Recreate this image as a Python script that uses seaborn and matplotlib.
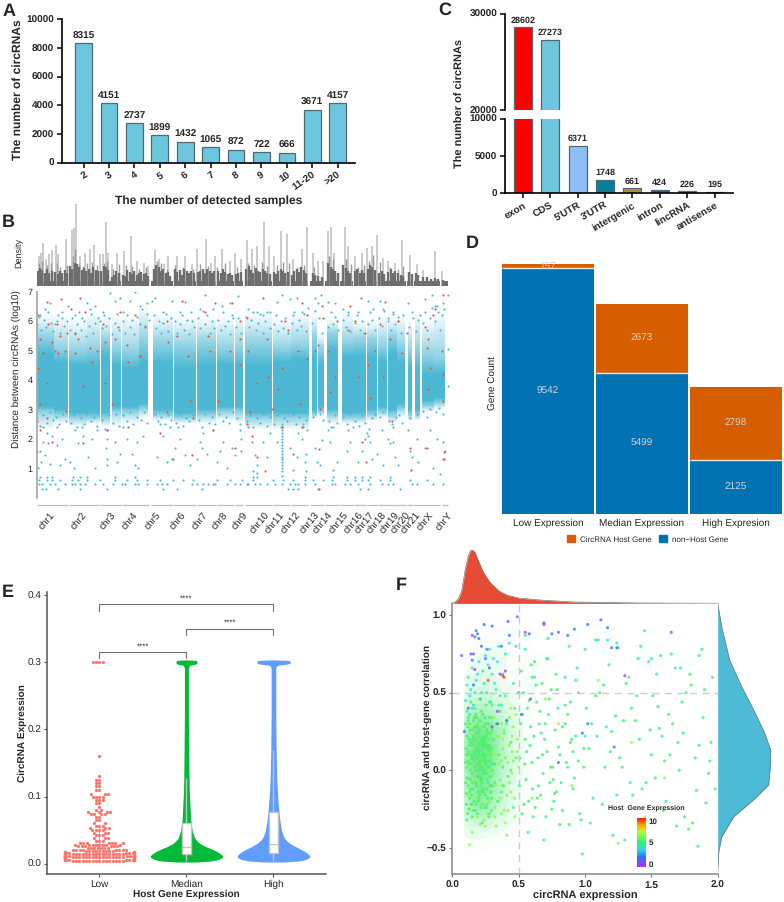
import numpy as np
import seaborn as sns
import matplotlib.pyplot as plt
from matplotlib.cm import ScalarMappable
from matplotlib.colors import LinearSegmentedColormap, Normalize, to_rgb
from matplotlib.patches import Patch

sns.set_style("white")
plt.rcParams["font.family"] = ["Liberation Sans", "DejaVu Sans"]
plt.rcParams["axes.unicode_minus"] = False
plt.rcParams["text.hinting"] = "no_hinting"
plt.rcParams["text.hinting_factor"] = 1

W, H = 784, 902

# Panel A
detected_samples = ["2", "3", "4", "5", "6", "7", "8", "9", "10", "11-20", ">20"]
detected_counts = [8315, 4151, 2737, 1899, 1432, 1065, 872, 722, 666, 3671, 4157]

# Panel C
regions = ["exon", "CDS", "5'UTR", "3'UTR", "intergenic", "intron", "lincRNA", "antisense"]
region_counts = [28602, 27273, 6371, 1748, 661, 424, 226, 195]
region_colors = ["#FF0000", "#6CC6DD", "#8FBDF7", "#0A7D9C", "#B98C45", "#4343D8", "#6A2A92", "#8E1B2E"]

# Panel B, x is genome position on the plot's own running scale
chrom_names = ["chr1", "chr2", "chr3", "chr4", "chr5", "chr6", "chr7", "chr8", "chr9", "chr10", "chr11", "chr12",
               "chr13", "chr14", "chr15", "chr16", "chr17", "chr18", "chr19", "chr20", "chr21", "chrX", "chrY"]
chrom_ticks = [148, 245, 331, 396, 467, 541, 606, 668, 726, 791, 838, 886,
               941, 981, 1029, 1073, 1106, 1143, 1181, 1216, 1246, 1286, 1341]
chrom_start = [110, 207, 301, 365, 452, 522, 591, 652, 705, 736, 818, 873, 930, 976, 1020, 1062, 1100, 1135, 1162, 1192, 1222, 1243, 1325]
chrom_end = [203, 297, 362, 447, 518, 587, 648, 701, 730, 815, 870, 925, 972, 1016, 1058, 1098, 1130, 1160, 1190, 1217, 1238, 1320, 1345]

# dense part of the cloud: block start, block end, solid range, dotted range, outer range
band_start = [110, 163, 208, 262, 303, 335, 365, 418, 460, 523, 592, 652, 706, 736, 818, 873, 935, 955, 982, 1027, 1060, 1100, 1135, 1163, 1192, 1225, 1245, 1265, 1302]
band_end = [160, 203, 260, 300, 330, 362, 415, 445, 520, 588, 648, 702, 728, 815, 870, 925, 948, 972, 1015, 1058, 1098, 1130, 1160, 1190, 1215, 1237, 1258, 1300, 1335]
solid_low = [3.1, 3.0, 2.9, 2.9, 2.9, 3.1, 3.1, 3.2, 3.0, 2.9, 3.0, 3.1, 3.1, 2.9, 2.9, 2.9, 3.0, 3.1, 3.0, 2.9, 2.9, 3.0, 3.1, 3.0, 3.2, 3.0, 3.0, 3.3, 3.4]
solid_high = [4.9, 4.6, 4.5, 4.5, 4.8, 4.5, 4.4, 4.6, 4.6, 4.4, 4.5, 4.5, 4.5, 4.5, 4.6, 4.7, 4.7, 4.5, 5.0, 4.8, 4.8, 4.8, 4.6, 4.9, 4.6, 4.4, 4.4, 4.2, 4.2]
dotted_low = [2.9, 2.8, 2.7, 2.7, 2.7, 2.9, 2.9, 3.0, 2.8, 2.7, 2.8, 2.9, 2.9, 2.7, 2.7, 2.7, 2.8, 2.9, 2.8, 2.7, 2.7, 2.8, 2.9, 2.8, 3.0, 2.8, 2.8, 3.1, 3.2]
dotted_high = [5.5, 5.1, 5.0, 5.1, 5.4, 5.1, 5.0, 5.4, 5.3, 5.2, 5.3, 5.1, 5.1, 5.3, 5.1, 5.2, 5.5, 5.1, 5.6, 5.3, 5.4, 5.4, 5.2, 5.5, 5.2, 5.0, 5.1, 4.9, 4.8]
outer_low = [2.3, 2.5, 2.4, 2.5, 2.4, 2.4, 2.5, 2.7, 2.6, 2.5, 2.5, 2.6, 2.5, 2.3, 2.3, 2.3, 2.7, 2.8, 2.5, 2.5, 2.5, 2.6, 2.7, 2.5, 2.7, 2.6, 2.6, 2.9, 3.0]
outer_high = [6.0, 5.9, 5.8, 6.0, 5.9, 5.9, 5.9, 6.2, 6.0, 5.9, 5.9, 5.9, 5.9, 6.0, 5.8, 6.0, 6.0, 5.4, 5.9, 6.0, 5.8, 5.8, 5.9, 5.9, 5.9, 5.8, 6.0, 5.8, 6.0]

sparse_x = [115, 122, 128, 135, 145, 150, 120, 140, 130, 155, 170, 185, 195, 180, 170, 210, 222, 235, 250, 265, 275, 285, 290, 245, 225, 320, 322, 318, 321, 320, 345, 350, 370, 380, 395, 405, 410, 430, 415, 360, 470, 490, 500, 515, 525, 540, 555, 480, 510, 535, 570, 590, 600, 605, 610, 620, 640, 650, 660, 670, 680, 695, 705, 722, 722, 720, 745, 755, 765, 770, 760, 770, 790, 800, 810, 830,
            845, 846, 845, 847, 845, 846, 847, 845, 846, 845, 847, 845, 846, 845, 847, 846, 845, 846,
            870, 880, 890, 905, 915, 918, 918, 920, 910, 895, 945, 950, 960, 965, 985, 990, 998, 1000, 1010, 1040, 1045, 1050, 1060, 1075, 1085, 1095, 1100, 1105, 1110, 1115, 1130, 1145, 1150, 1165, 1170, 1175, 1180, 1185, 1195, 1225, 1230, 1235, 1250, 1255, 1275, 1290, 1300, 1310, 1320, 1328, 1330, 1335,
            135, 150, 120, 170, 185, 205, 225, 245, 260, 270, 285, 300, 310, 330, 345, 360, 370, 390, 405, 420, 440, 455, 465, 490, 515, 540, 555, 575, 600, 615, 640, 665, 690, 715, 700, 745, 770, 790, 810, 830, 870, 845, 890, 880, 905, 925, 945, 962, 955, 985, 1005, 1030, 1045, 1075, 1105, 1120, 1140, 1150, 1165, 1180, 1195, 1225, 1240, 1260, 1275, 1295, 1305, 1315, 1330, 1345, 1345, 1345]
sparse_y = [1.0, 1.2, 1.9, 1.45, 1.85, 1.15, 1.6, 2.2, 2.4, 2.1, 1.8, 2.0, 1.3, 1.1, 2.4, 1.2, 1.0, 1.85, 2.1, 1.4, 2.0, 1.0, 2.3, 2.4, 2.3, 1.3, 1.1, 1.7, 2.0, 2.3, 1.9, 1.2, 2.4, 2.0, 1.5, 1.1, 1.9, 2.1, 1.0, 1.5, 1.4, 2.1, 1.2, 1.3, 1.7, 2.0, 1.45, 2.5, 2.4, 2.4, 1.1, 1.3, 1.9, 1.7, 2.2, 1.5, 2.3, 1.2, 1.6, 1.9, 1.0, 1.7, 1.45, 1.6, 2.0, 2.3, 2.4, 1.9, 1.45, 1.1, 0.9, 0.85, 1.9, 1.4, 2.2, 1.9,
            0.75, 0.9, 1.0, 1.1, 1.2, 1.3, 1.4, 1.5, 1.6, 1.7, 1.8, 1.9, 2.0, 2.1, 2.2, 2.3, 2.4, 2.5,
            1.7, 0.95, 1.4, 2.0, 1.2, 0.9, 1.5, 2.3, 2.5, 2.2, 1.7, 1.2, 1.1, 1.95, 2.3, 1.9, 0.95, 2.4, 1.2, 1.6, 2.3, 1.9, 2.4, 1.2, 1.6, 2.0, 2.2, 2.1, 1.9, 1.3, 1.5, 2.3, 1.1, 2.0, 1.85, 2.5, 1.9, 1.4, 1.1, 2.3, 1.6, 1.4, 2.0, 1.2, 1.7, 2.3, 1.0, 2.0, 0.8, 1.9, 1.3, 1.6,
            6.4, 6.6, 6.2, 6.0, 6.3, 6.5, 6.2, 6.1, 6.6, 6.4, 6.5, 6.0, 6.3, 6.95, 6.7, 6.8, 6.3, 6.7, 7.0, 6.5, 6.6, 6.7, 6.8, 6.3, 6.7, 6.3, 6.65, 6.0, 6.4, 6.9, 6.4, 6.5, 6.6, 6.85, 6.1, 6.4, 6.3, 6.2, 6.3, 6.65, 6.75, 6.9, 6.8, 6.2, 6.3, 6.45, 6.8, 6.9, 6.6, 6.65, 6.6, 6.4, 6.3, 6.3, 6.7, 6.4, 6.7, 6.4, 6.0, 6.3, 6.15, 6.6, 6.1, 6.2, 6.75, 6.9, 6.5, 6.3, 6.6, 6.9, 5.05, 3.8]
# the thinner upper fringe of the cloud
fringe_x = [112, 118, 124, 131, 138, 144, 152, 158, 166, 173, 179, 186, 193, 200, 210, 217, 224, 231, 238, 244, 251, 258, 266, 272, 279, 286, 293, 305, 312, 319, 326, 337, 344, 351, 358, 368, 375, 382, 389, 396, 403, 410, 420, 427, 434, 441, 448, 462, 469, 476, 483, 490, 497, 504, 512, 525, 532, 539, 546, 553, 560, 567, 574, 581, 594, 601, 608, 615, 622, 629, 636, 643, 655, 662, 669, 676, 683, 690, 697, 708, 715, 722, 739, 746, 753, 760, 767, 774, 781, 788, 795, 802, 809, 821, 828, 835, 842, 849, 856, 863, 876, 883, 890, 897, 904, 911, 918, 937, 944, 958, 965, 985, 992, 999, 1006, 1013, 1030, 1037, 1044, 1051, 1065, 1072, 1079, 1086, 1093, 1103, 1110, 1117, 1124, 1138, 1145, 1152, 1165, 1172, 1179, 1186, 1195, 1202, 1209, 1228, 1235, 1248, 1255, 1268, 1275, 1282, 1289, 1296, 1305, 1312, 1319, 1326, 1333]
fringe_y = [5.9, 6.15, 5.7, 6.05, 5.8, 6.3, 5.95, 5.65, 5.9, 6.2, 5.6, 6.1, 5.85, 6.0, 5.7, 6.1, 5.55, 5.9, 6.3, 5.7, 6.0, 5.5, 5.85, 6.25, 5.6, 5.95, 6.1, 5.75, 6.2, 5.85, 6.1, 5.55, 5.95, 6.25, 5.7, 6.0, 5.6, 6.2, 5.8, 6.05, 5.55, 6.15, 5.9, 6.4, 5.85, 6.25, 6.05, 6.2, 5.75, 6.0, 5.6, 5.95, 6.25, 5.65, 6.1, 6.0, 5.6, 5.9, 6.2, 5.7, 6.05, 5.55, 6.3, 5.8, 6.1, 5.75, 6.35, 5.9, 6.2, 5.6, 6.0, 5.75, 6.05, 5.7, 6.3, 5.85, 6.0, 5.55, 6.2, 5.8, 6.1, 5.6, 6.15, 5.8, 6.05, 6.3, 5.7, 5.95, 6.25, 5.6, 6.0, 6.3, 5.75, 5.9, 6.2, 5.65, 6.0, 5.75, 6.1, 5.6, 5.95, 6.3, 5.7, 6.05, 5.85, 6.25, 5.65, 5.95, 6.35, 6.1, 5.6, 5.8, 6.3, 5.9, 6.15, 5.7, 6.05, 5.8, 6.2, 5.65, 5.95, 6.2, 5.7, 6.0, 5.6, 5.9, 6.3, 6.05, 5.7, 6.1, 5.85, 6.35, 6.1, 5.7, 6.25, 5.9, 6.0, 5.6, 6.2, 5.8, 6.3, 5.65, 6.05, 5.95, 6.3, 5.7, 6.1, 6.45, 6.0, 6.5, 5.7, 6.2, 6.4]
under_x = [112, 121, 130, 140, 150, 158, 168, 178, 188, 198, 212, 222, 232, 242, 252, 262, 272, 282, 292, 306, 316, 326, 338, 348, 358, 370, 380, 390, 400, 410, 422, 432, 442, 464, 474, 484, 494, 504, 514, 528, 538, 548, 558, 568, 578, 596, 606, 616, 626, 636, 646, 658, 668, 678, 688, 698, 710, 720, 740, 750, 760, 770, 780, 790, 800, 810, 822, 832, 842, 852, 862, 878, 888, 898, 908, 918, 938, 946, 960, 968, 986, 994, 1004, 1012, 1030, 1040, 1050, 1066, 1076, 1086, 1096, 1106, 1116, 1126, 1140, 1150, 1168, 1178, 1188, 1196, 1206, 1230, 1250, 1270, 1280, 1290, 1308, 1318, 1328]
under_y = [2.7, 2.45, 2.8, 2.55, 2.9, 2.65, 2.75, 2.5, 2.85, 2.6, 2.55, 2.8, 2.4, 2.7, 2.5, 2.85, 2.6, 2.75, 2.45, 2.65, 2.35, 2.8, 2.55, 2.85, 2.45, 2.8, 2.6, 2.9, 2.5, 2.75, 2.65, 2.9, 2.55, 2.85, 2.6, 2.75, 2.5, 2.8, 2.65, 2.55, 2.85, 2.45, 2.7, 2.6, 2.8, 2.65, 2.4, 2.85, 2.55, 2.75, 2.5, 2.85, 2.6, 2.75, 2.55, 2.9, 2.7, 2.5, 2.6, 2.8, 2.4, 2.7, 2.55, 2.85, 2.45, 2.75, 2.5, 2.8, 2.4, 2.7, 2.6, 2.85, 2.5, 2.75, 2.4, 2.65, 2.75, 2.9, 2.85, 2.65, 2.6, 2.4, 2.8, 2.55, 2.75, 2.5, 2.85, 2.6, 2.45, 2.8, 2.55, 2.35, 2.7, 2.85, 2.75, 2.9, 2.6, 2.4, 2.75, 2.8, 2.55, 2.7, 2.85, 2.95, 2.75, 3.0, 2.9, 3.05, 2.85]
row_48_x = [118, 125, 150, 165, 195, 215, 225, 240, 255, 285, 310, 340, 365, 375, 405, 415, 440, 470, 485, 500, 575, 590, 610, 625, 640, 645, 680, 705, 720, 740, 745, 765, 780, 800, 825, 845, 870, 885, 895, 915, 945, 995, 1005, 1035, 1050, 1075, 1110, 1145, 1165, 1180, 1235, 1250, 1300, 1330]
row_60_x = [118, 140, 155, 180, 215, 235, 260, 300, 345, 380, 410, 440, 480, 520, 550, 580, 650, 690, 725, 760, 820, 850, 880, 915, 940, 970, 995, 1040, 1065, 1085, 1105, 1140, 1170, 1230, 1280]
row_72_x = [120, 140, 155, 220, 240, 260, 345, 405, 760, 770, 915, 1000, 1040, 1065, 1085, 1110, 1170]
row_30_x = [125, 138, 175, 240, 320, 490, 530, 605, 865, 880, 895, 955, 1080, 1105, 1200]

red_x = [115, 140, 145, 155, 170, 180, 182, 120, 130, 115, 140, 120, 112, 140, 120, 155, 112, 200, 195, 175, 165, 197, 212, 225, 240, 255, 235, 225, 250, 275, 270, 290, 310, 315, 315, 320, 248, 355, 360, 345, 380, 385, 420, 435, 405, 385, 335, 500, 505, 545, 530, 565, 570, 580, 500, 480, 520, 575, 615, 625, 645, 630, 655, 640, 695, 690, 720, 720, 720, 705, 740, 745, 750, 740, 755, 770, 790, 800, 805, 770, 815, 795, 855, 865, 845, 835, 845, 880, 905, 920, 895, 920, 900, 905, 965, 968, 945, 955, 985, 960, 957, 957, 1010, 1005, 990, 1050, 1065, 1083, 1045, 1075, 1095, 1105, 1110, 1085, 1097, 1155, 1140, 1125, 1170, 1150, 1175, 1195, 1205, 1222, 1232, 1230, 1275, 1285, 1280, 1290, 1285, 1300, 1305, 1330, 1325, 1330, 1330, 1332, 1332, 1280]
red_y = [6.2, 6.65, 5.9, 5.3, 5.9, 5.5, 6.75, 5.4, 4.9, 4.4, 3.9, 3.2, 2.6, 2.7, 2.3, 1.9, 1.55, 5.6, 5.0, 4.9, 5.0, 2.95, 6.4, 5.6, 6.8, 6.3, 5.4, 4.9, 3.8, 4.6, 5.1, 5.0, 5.9, 5.3, 3.9, 2.3, 1.85, 5.8, 6.3, 5.4, 5.2, 4.6, 4.8, 5.8, 6.2, 2.4, 3.2, 6.0, 5.3, 6.7, 5.5, 4.8, 3.3, 2.7, 2.9, 2.2, 1.3, 1.45, 6.3, 5.5, 6.6, 5.0, 3.3, 2.3, 6.6, 5.0, 6.0, 5.4, 4.5, 1.7, 6.1, 5.0, 2.9, 2.5, 2.1, 1.4, 6.8, 5.4, 4.1, 3.9, 3.0, 0.9, 6.0, 5.7, 4.4, 3.7, 2.4, 1.5, 6.6, 6.2, 5.0, 4.7, 3.2, 2.4, 6.5, 6.1, 5.0, 5.2, 5.0, 3.0, 1.65, 0.3, 6.0, 4.1, 3.6, 6.5, 6.0, 6.8, 5.7, 4.1, 5.6, 4.5, 3.4, 1.9, 1.2, 6.65, 5.9, 5.0, 5.4, 4.1, 2.6, 6.0, 4.9, 5.6, 0.95, 1.7, 5.8, 5.4, 5.1, 4.4, 3.7, 6.2, 6.4, 6.9, 5.0, 4.2, 3.3, 1.55, 1.3, 1.7]

spike_x = [118, 123, 130, 138, 148, 155, 167, 175, 197, 215, 222, 229, 240, 255, 270, 282, 300, 308, 319, 325, 335, 350, 372, 392, 410, 432, 445, 465, 478, 492, 505, 530, 555, 575, 590, 618, 632, 645, 667, 690, 705, 723, 742, 755, 770, 793, 808, 822, 843, 860, 880, 905, 920, 938, 955, 968, 985, 994, 1003, 1034, 1045, 1065, 1085, 1100, 1115, 1132, 1150, 1165, 1185, 1205, 1230, 1250, 1270, 1305, 1325]
spike_h = [90, 100, 130, 80, 95, 108, 125, 97, 142, 168, 175, 248, 90, 100, 110, 125, 95, 95, 192, 100, 65, 100, 105, 150, 75, 70, 60, 108, 80, 65, 90, 90, 90, 65, 110, 142, 70, 90, 110, 75, 100, 80, 140, 110, 120, 192, 120, 90, 165, 158, 80, 110, 178, 100, 75, 75, 165, 178, 100, 178, 120, 90, 100, 115, 120, 155, 85, 75, 70, 140, 92, 65, 48, 105, 45]
mid_spike_x = [116, 126, 142, 152, 170, 180, 200, 218, 226, 236, 250, 262, 276, 290, 312, 322, 340, 356, 378, 396, 416, 438, 470, 484, 500, 526, 548, 580, 600, 625, 652, 675, 712, 745, 762, 786, 800, 830, 848, 868, 890, 912, 942, 988, 998, 1038, 1052, 1075, 1092, 1108, 1120, 1140, 1170, 1195, 1210]
mid_spike_h = [70, 75, 62, 70, 70, 56, 64, 90, 110, 66, 60, 68, 72, 64, 70, 75, 50, 66, 62, 60, 52, 56, 75, 70, 52, 62, 58, 52, 66, 60, 56, 68, 58, 70, 64, 72, 60, 62, 72, 70, 58, 64, 58, 90, 82, 80, 66, 56, 64, 75, 92, 72, 56, 52, 60]
body_x = [113, 120, 127, 134, 141, 148, 155, 166, 173, 180, 187, 194, 201, 210, 217, 224, 231, 238, 245, 252, 259, 266, 273, 280, 287, 294, 304, 311, 318, 325, 335, 342, 349, 356, 368, 375, 382, 389, 396, 403, 410, 417, 424, 431, 438, 445, 462, 469, 476, 483, 490, 497, 504, 511, 525, 532, 539, 546, 553, 560, 567, 574, 581, 594, 601, 608, 615, 622, 629, 636, 643, 655, 662, 669, 676, 683, 690, 697, 708, 715, 722, 739, 746, 753, 760, 767, 774, 781, 788, 795, 802, 809, 821, 828, 835, 842, 849, 856, 863, 876, 883, 890, 897, 904, 911, 918, 938, 945, 955, 965, 985, 992, 999, 1006, 1013, 1030, 1037, 1044, 1051, 1065, 1072, 1079, 1086, 1093, 1103, 1110, 1117, 1124, 1138, 1145, 1152, 1165, 1172, 1179, 1186, 1195, 1202, 1209, 1228, 1235, 1248, 1255, 1268, 1280, 1292, 1305, 1315, 1328]
body_h = [45, 55, 48, 40, 50, 38, 46, 42, 35, 45, 40, 48, 38, 60, 52, 70, 65, 58, 48, 55, 46, 52, 40, 58, 48, 44, 45, 60, 58, 48, 28, 34, 45, 38, 32, 30, 48, 42, 36, 45, 34, 40, 42, 36, 38, 30, 52, 62, 56, 45, 50, 40, 42, 30, 50, 42, 48, 34, 52, 44, 38, 46, 40, 42, 46, 50, 40, 52, 44, 38, 46, 46, 38, 50, 42, 36, 40, 34, 36, 38, 42, 50, 60, 48, 40, 55, 46, 42, 52, 46, 40, 36, 42, 36, 46, 50, 44, 38, 42, 34, 44, 50, 42, 56, 48, 40, 40, 32, 30, 28, 70, 58, 50, 46, 40, 62, 54, 46, 38, 46, 52, 40, 48, 38, 50, 62, 56, 48, 40, 46, 36, 42, 50, 38, 44, 40, 34, 30, 42, 36, 38, 32, 26, 28, 22, 24, 20, 18]

# Panel D
expr_groups = ["Low Expression", "Median Expression", "High Expresion"]
non_host = [9542, 5499, 2125]
host = [157, 2673, 2798]

# Panel E
host_groups = ["Low", "Median", "High"]
low_levels = [0.0045, 0.0062, 0.0078, 0.0093, 0.0108, 0.0124, 0.0141, 0.0157, 0.0172, 0.0191, 0.021, 0.0233, 0.0258, 0.028, 0.031, 0.034, 0.038, 0.042, 0.046, 0.05, 0.053, 0.056, 0.06, 0.065, 0.07, 0.074, 0.077, 0.08, 0.085, 0.09, 0.095, 0.1, 0.104, 0.11, 0.115, 0.12, 0.125, 0.131, 0.16, 0.3]
low_counts = [16, 20, 24, 28, 24, 20, 17, 15, 11, 9, 8, 7, 6, 8, 7, 3, 3, 3, 3, 4, 3, 3, 2, 2, 2, 4, 4, 2, 1, 2, 3, 4, 3, 2, 2, 2, 2, 1, 1, 4]
violin_levels = [0.0025, 0.004, 0.006, 0.009, 0.0115, 0.014, 0.018, 0.022, 0.025, 0.028, 0.031, 0.035, 0.038, 0.045, 0.05, 0.065, 0.085, 0.105, 0.125, 0.17, 0.22, 0.27, 0.291, 0.294, 0.2955, 0.297, 0.2985, 0.3015, 0.3028, 0.3035]
median_width = [30, 75, 95, 107, 109, 104, 92, 75, 60, 48, 38, 30, 25, 20, 17, 13, 11, 9, 8, 7, 6, 6, 6, 8, 11, 26, 31, 31, 28, 0]
high_width = [30, 75, 95, 107, 109, 105, 95, 80, 68, 57, 47, 38, 33, 27, 24, 19, 15, 12, 10, 8, 7, 7, 7, 9, 14, 38, 50, 50, 44, 0]
box_low = [0.005, 0.0094, 0.0154, 0.030, 0.055]
box_median = [0.004, 0.014, 0.025, 0.060, 0.128]
box_high = [0.004, 0.0154, 0.030, 0.077, 0.169]
bracket_left = [0, 1, 0]
bracket_right = [1, 2, 2]
bracket_y = [0.315, 0.350, 0.386]

# Panel F
green_x = [0.55, 0.62, 0.58, 0.72, 0.78, 0.85, 0.55, 0.6, 0.65, 0.7, 0.75, 0.8, 0.9, 0.92, 0.95, 1.0, 1.05, 1.1, 1.15, 1.2, 1.25, 1.3, 1.35, 1.4, 1.45, 1.5, 1.55, 1.6, 1.65, 1.7, 1.75, 1.8, 1.85, 1.9, 1.95, 1.98,
           0.52, 0.57, 0.63, 0.68, 0.73, 0.77, 0.83, 0.88, 0.93, 0.98, 1.03, 1.08, 1.13, 1.18, 1.23, 1.28, 1.33, 1.38, 1.43, 1.48, 1.53, 1.58, 1.63, 1.68, 1.73, 1.78, 1.83, 1.88, 1.93,
           0.51, 0.54, 0.59, 0.61, 0.66, 0.69, 0.74, 0.79, 0.82, 0.87, 0.91, 0.96, 1.01, 1.06, 1.11, 1.16, 1.21, 1.26, 1.31, 1.36, 1.41, 1.46, 1.51, 1.56, 1.61, 1.66, 1.71, 1.76, 1.81, 1.86, 1.91, 1.96,
           0.53, 0.56, 0.6, 0.64, 0.67, 0.71, 0.76, 0.81, 0.86, 0.89, 0.94, 0.99, 1.04, 1.09, 1.14, 1.19, 1.24, 1.29, 1.34, 1.39, 1.44, 1.49, 1.54, 1.59, 1.64, 1.69, 1.74, 1.79, 1.84, 1.89, 1.94,
           0.505, 0.515, 0.525, 0.535, 0.545, 0.555, 0.565, 0.575, 0.585, 0.595, 0.605, 0.615, 0.625, 0.635, 0.645, 0.655, 0.665, 0.675, 0.685, 0.695, 0.705, 0.715, 0.725, 0.735, 0.745, 0.755, 0.765, 0.775, 0.785, 0.795, 0.81, 0.83, 0.85, 0.87, 0.89, 0.91, 0.93, 0.95, 0.97, 0.99]
green_y = [0.87, 0.7, 0.45, 0.85, 0.62, 0.42, 0.2, 0.05, -0.1, 0.3, -0.25, 0.15, 0.2, -0.05, 0.5, 0.78, 0.3, 0.84, 0.02, 0.25, 0.79, -0.45, 0.4, 0.72, 0.9, 0.1, 0.41, 0.06, 0.75, 0.18, -0.3, 0.55, -0.49, 0.52, 0.18, -0.12,
           0.64, -0.4, 0.55, 0.1, 0.46, -0.15, 0.28, -0.35, 0.58, -0.54, 0.14, 0.48, -0.22, 0.68, 0.35, 0.02, 0.6, 0.32, -0.12, 0.7, -0.05, 0.22, 0.36, 0.66, 0.44, -0.38, 0.08, 0.78, -0.02,
           0.08, -0.22, 0.28, -0.3, 0.38, -0.45, 0.02, 0.52, -0.08, 0.36, 0.12, -0.28, 0.4, -0.18, 0.5, 0.28, -0.42, 0.08, 0.56, -0.16, 0.2, -0.08, 0.48, 0.27, -0.2, 0.3, 0.0, 0.5, -0.34, 0.16, -0.21, 0.6,
           0.36, 0.12, 0.6, -0.18, 0.24, 0.72, -0.06, -0.35, 0.05, 0.18, 0.66, 0.02, -0.34, 0.22, 0.55, 0.12, -0.16, 0.32, -0.08, 0.48, -0.32, 0.26, 0.62, -0.26, 0.1, -0.36, 0.24, 0.62, -0.13, 0.34, 0.06,
           -0.1, 0.3, -0.28, 0.5, 0.04, -0.06, 0.4, -0.2, 0.16, 0.68, -0.12, 0.22, -0.24, 0.44, 0.08, 0.3, -0.16, 0.56, -0.02, 0.2, -0.3, 0.12, 0.36, -0.08, 0.52, 0.02, -0.2, 0.26, -0.14, 0.4, 0.1, -0.26, 0.3, 0.02, 0.44, -0.12, 0.22, 0.06, -0.32, 0.14]
lime_x = [0.11, 0.12, 0.13, 0.14, 0.15, 0.16, 0.17, 0.18, 0.19, 0.2, 0.21, 0.22, 0.23, 0.24, 0.25, 0.26, 0.27, 0.28, 0.29, 0.3, 0.32, 0.34, 0.36, 0.38, 0.4, 0.42, 0.44, 0.46, 0.48, 0.5, 0.13, 0.15, 0.17, 0.19, 0.21, 0.23, 0.25, 0.27, 0.29, 0.31, 0.33, 0.35, 0.37, 0.39, 0.41, 0.43, 0.45, 0.47, 0.49, 0.12, 0.14, 0.16, 0.18, 0.2, 0.22, 0.24, 0.26, 0.28, 0.3, 0.6, 0.7, 0.8, 0.9, 1.1, 1.25, 1.35, 1.45, 1.6,
          0.31, 0.33, 0.35, 0.37, 0.39, 0.41, 0.43, 0.45, 0.32, 0.34, 0.36, 0.38, 0.4, 0.42, 0.44, 0.46, 0.31, 0.33, 0.35, 0.37, 0.39, 0.41, 0.43, 0.45, 0.47, 0.49]
lime_y = [-0.05, 0.1, -0.25, 0.02, -0.4, 0.15, -0.18, 0.06, -0.3, -0.08, 0.2, -0.22, 0.04, -0.12, 0.12, -0.28, 0.0, 0.18, -0.15, 0.08, -0.24, 0.22, -0.06, 0.14, -0.34, 0.05, -0.14, 0.28, 0.36, 0.02, -0.48, 0.28, 0.34, 0.18, -0.35, 0.26, -0.36, 0.3, 0.24, -0.02, 0.1, -0.2, 0.3, -0.1, -0.42, 0.34, 0.12, -0.3, 0.2, -0.16, 0.24, -0.06, -0.22, 0.32, 0.1, -0.32, 0.08, -0.2, 0.26, -0.18, 0.46, 0.3, -0.1, 0.58, -0.47, 0.18, -0.3, -0.05,
          0.12, -0.1, 0.04, -0.28, 0.26, -0.16, 0.16, -0.02, -0.3, 0.3, -0.18, 0.2, 0.08, -0.26, 0.4, 0.06, 0.34, -0.36, 0.22, 0.06, -0.26, 0.32, -0.08, 0.22, -0.18, 0.12]
mid_x = [0.1, 0.105, 0.11, 0.115, 0.12, 0.125, 0.13, 0.135, 0.14, 0.145, 0.15, 0.155, 0.16, 0.165, 0.17, 0.175, 0.18, 0.185, 0.19, 0.195, 0.2, 0.205, 0.21, 0.215, 0.22, 0.225, 0.23, 0.235, 0.24, 0.245, 0.25, 0.255, 0.26, 0.265, 0.27, 0.275, 0.28, 0.285, 0.29, 0.295, 0.3, 0.31, 0.32, 0.33, 0.34, 0.35, 0.36, 0.37, 0.38, 0.39, 0.4, 0.42, 0.44, 0.46, 0.48,
         0.1, 0.11, 0.12, 0.13, 0.14, 0.15, 0.16, 0.17, 0.18, 0.19, 0.2, 0.21, 0.22, 0.23, 0.24, 0.25, 0.26, 0.27, 0.28, 0.29, 0.3, 0.1, 0.11, 0.12, 0.13, 0.14, 0.15, 0.16, 0.17, 0.18, 0.19, 0.2, 0.21, 0.22, 0.23, 0.24, 0.25, 0.26, 0.27, 0.28, 0.3, 0.32, 0.35, 0.38, 0.41, 0.44, 0.47,
         0.105, 0.115, 0.125, 0.135, 0.145, 0.155, 0.165, 0.175, 0.185, 0.195, 0.205, 0.215, 0.225, 0.235, 0.245, 0.255, 0.265, 0.275, 0.285, 0.295, 0.105, 0.115, 0.125, 0.135, 0.145, 0.155, 0.165, 0.175, 0.185, 0.195, 0.205, 0.215, 0.225, 0.235, 0.245, 0.255, 0.265, 0.275, 0.285, 0.295,
         0.11, 0.13, 0.15, 0.17, 0.19, 0.21, 0.23, 0.25, 0.27, 0.29, 0.12, 0.14, 0.16, 0.18, 0.2, 0.22, 0.24, 0.26, 0.28, 0.3, 0.11, 0.13, 0.15, 0.17, 0.19, 0.21, 0.23, 0.25, 0.27, 0.29, 0.12, 0.14, 0.16, 0.18, 0.2, 0.22, 0.24, 0.26, 0.28, 0.3]
mid_y = [0.05, -0.15, 0.22, -0.05, 0.12, -0.25, 0.3, 0.0, -0.12, 0.18, -0.3, 0.08, 0.26, -0.2, 0.02, 0.36, -0.1, 0.14, -0.28, 0.24, 0.04, -0.16, 0.32, -0.06, 0.2, -0.34, 0.1, -0.02, 0.28, -0.24, 0.16, 0.42, -0.12, 0.06, 0.24, -0.3, 0.12, -0.04, 0.34, -0.18, 0.0, 0.2, -0.08, 0.3, -0.2, 0.1, 0.38, -0.14, 0.02, 0.24, 0.48, -0.04, 0.18, -0.24, 0.08,
         0.3, 0.38, -0.1, 0.16, 0.44, -0.02, 0.1, 0.4, -0.22, 0.3, 0.12, -0.1, 0.38, 0.0, 0.16, -0.16, 0.26, -0.08, 0.34, 0.06, 0.42, -0.08, 0.02, 0.34, -0.18, 0.1, 0.2, -0.26, 0.06, 0.24, -0.04, 0.18, 0.46, -0.14, 0.36, 0.0, 0.3, -0.22, 0.14, 0.44, 0.26, 0.04, 0.42, -0.1, 0.3, 0.0, 0.4,
         0.14, -0.28, 0.04, 0.26, -0.16, 0.16, 0.34, -0.26, 0.08, -0.14, 0.26, 0.02, -0.08, 0.2, 0.34, 0.04, -0.18, 0.3, -0.1, 0.14, -0.22, 0.28, 0.2, -0.06, 0.08, -0.12, 0.2, 0.0, 0.34, -0.2, 0.1, -0.24, 0.16, -0.14, 0.06, 0.22, -0.06, 0.16, 0.24, -0.26,
         -0.32, 0.18, -0.22, 0.12, 0.28, -0.04, -0.22, 0.22, 0.02, 0.1, 0.06, -0.22, 0.32, -0.08, 0.0, 0.18, 0.1, -0.24, 0.02, -0.1, 0.1, -0.14, -0.08, 0.28, 0.14, 0.06, -0.12, 0.08, 0.16, -0.14, 0.32, 0.04, 0.22, 0.12, -0.18, -0.06, 0.18, -0.02, -0.28, 0.04]
cyan_x = [0.1, 0.12, 0.13, 0.14, 0.15, 0.16, 0.18, 0.2, 0.21, 0.23, 0.25, 0.26, 0.28, 0.3, 0.32, 0.34, 0.36, 0.38, 0.4, 0.43, 0.46, 0.48, 0.11, 0.13, 0.15, 0.17, 0.19, 0.22, 0.24, 0.27, 0.29, 0.31, 0.33, 0.35, 0.37, 0.55, 0.62, 0.72, 0.85, 0.88, 1.0, 1.08, 1.17, 1.24, 1.42, 1.5, 1.57, 1.72, 1.86]
cyan_y = [0.45, 0.6, 0.36, 0.52, 0.66, 0.42, 0.58, 0.7, 0.46, 0.64, 0.74, 0.5, 0.78, 0.62, 0.56, 0.7, 0.48, 0.62, 0.75, 0.82, 0.56, 0.8, 0.55, 0.48, 0.4, 0.5, 0.62, 0.5, 0.56, 0.68, 0.44, 0.72, 0.52, 0.8, 0.42, 0.78, 0.6, 0.72, 0.6, 0.8, 0.22, 0.84, 0.84, 0.82, 0.8, 0.72, 0.74, 0.66, 0.74]
blue_x = [0.07, 0.09, 0.12, 0.14, 0.15, 0.16, 0.17, 0.18, 0.19, 0.2, 0.22, 0.24, 0.25, 0.26, 0.28, 0.3, 0.34, 0.37, 0.41, 0.43, 0.5, 0.52, 0.58, 0.75, 0.8, 0.87, 0.92, 1.02, 1.12, 1.17, 1.2, 1.24, 1.22, 0.8, 0.98, 1.02]
blue_y = [0.74, 0.25, 0.4, 0.75, 0.71, 0.55, 0.86, 0.9, 0.88, 0.85, 0.8, 0.94, 0.72, 0.78, 0.66, 0.93, 0.3, 0.8, 0.32, 0.87, 0.5, 0.36, 0.88, 0.88, 0.89, 0.87, 0.91, 0.94, 0.97, 0.92, 0.79, 0.79, 0.15, 0.05, 0.24, 0.3]
purple_x = [0.15, 0.16, 0.17, 0.3, 0.36, 0.4, 0.42, 0.49, 0.55, 0.59, 0.69, 0.69, 1.3, 1.65, 0.34]
purple_y = [0.87, 0.75, 0.65, 0.28, 0.62, 0.64, 0.96, 0.99, 0.89, 0.46, 0.95, 0.94, 0.61, 0.89, 0.38]
red_pt_x = [0.27, 0.38, 0.39]
red_pt_y = [0.58, 0.61, 0.6]

top_x = [0.0, 0.008, 0.045, 0.071, 0.096, 0.121, 0.138, 0.151, 0.171, 0.196, 0.234, 0.284, 0.347, 0.41, 0.498, 0.66, 0.912, 1.414, 2.0]
top_h = [0, 0, 4.3, 12.7, 32.7, 47.7, 52.7, 53.3, 51, 42.7, 31, 21, 12.7, 8.3, 5.3, 3.3, 1.3, 0.3, 0]
side_y = [1.077, 0.925, 0.71, 0.54, 0.39, 0.24, 0.13, 0.05, -0.02, -0.095, -0.19, -0.30, -0.43, -0.53, -0.669]
side_w = [0, 4, 12, 24, 36, 47, 53, 53, 52, 51, 36, 16, 4, 1, 0]

BAR_BLUE = "#6CC6DD"
EDGE = "#4E6A72"
CLOUD = "#4DB8D4"
RED = "#F0503C"


def add_panel(left, top, right, bottom):
    return fig.add_axes([left / W, 1 - bottom / H, (right - left) / W, (bottom - top) / H])


def bold_ticks(ax, size=7.5):
    for lab in ax.get_xticklabels() + ax.get_yticklabels():
        lab.set_fontweight("bold")
        lab.set_fontsize(size)


def black_axes(ax):
    sns.despine(ax=ax)
    for side in ["left", "bottom"]:
        ax.spines[side].set_color("black")
        ax.spines[side].set_linewidth(1.2)
    ax.tick_params(length=3.5, width=1.1, color="black", pad=2, left=True, bottom=True)


fig = plt.figure(figsize=(W / 100, H / 100), dpi=100)

# A
ax_a = add_panel(62, 19.3, 355, 162.7)
sns.barplot(x=detected_samples, y=detected_counts, color=BAR_BLUE, saturation=1, width=0.66,
            edgecolor=EDGE, linewidth=0.9, ax=ax_a)
ax_a.set_xlim(-0.85, 10.68)
ax_a.set_ylim(0, 10000)
black_axes(ax_a)
ax_a.bar_label(ax_a.containers[0], fontsize=7, fontweight="bold", padding=2)
ax_a.set_xticks(range(len(detected_samples)), detected_samples, rotation=35, ha="right", rotation_mode="anchor")
bold_ticks(ax_a)
ax_a.set_xlabel("The number of detected samples", fontsize=8.6, fontweight="bold", labelpad=2)
ax_a.set_ylabel("The number of circRNAs", fontsize=8.4, fontweight="bold")
ax_a.yaxis.set_label_coords(-0.132, 0.507)

# C
ax_c2 = add_panel(505, 13.7, 733, 110)
ax_c1 = add_panel(505, 118.7, 733, 193)
for ax in [ax_c1, ax_c2]:
    sns.barplot(x=regions, y=region_counts, hue=regions, palette=region_colors, saturation=1, width=0.66,
                edgecolor=EDGE, linewidth=0.9, legend=False, ax=ax)
    ax.set_xlim(-0.65, 7.67)
    black_axes(ax)
ax_c1.set_ylim(0, 10000)
ax_c2.set_ylim(20000, 30000)
ax_c1.set_yticks([0, 5000, 10000])
ax_c2.set_yticks([20000, 30000])
ax_c2.spines["bottom"].set_visible(False)
ax_c2.tick_params(bottom=False, labelbottom=False)
for container in ax_c2.containers[:2]:
    ax_c2.bar_label(container, fontsize=6.8, fontweight="bold", padding=2)
for container in ax_c1.containers[2:]:
    ax_c1.bar_label(container, fontsize=6.8, fontweight="bold", padding=2)
ax_c1.set_xticks(range(len(regions)), regions, rotation=30, ha="right", rotation_mode="anchor")
bold_ticks(ax_c1)
bold_ticks(ax_c2)
fig.text(460 / W, 1 - 103 / H, "The number of circRNAs", rotation=90, fontsize=7.9, fontweight="bold", ha="center", va="center")

# B density
ax_d = add_panel(36.7, 203, 451, 286)
ax_d.vlines(spike_x, 0, spike_h, color="#BDBDBD", linewidth=1.1)
ax_d.vlines(mid_spike_x, 0, mid_spike_h, color="#9A9A9A", linewidth=1.0)
ax_d.vlines(body_x, 0, body_h, color="#6E6E6E", linewidth=1.7)
for start, end in zip(chrom_start, chrom_end):
    ax_d.fill_between([start, end], 0, 14, color="#6E6E6E", linewidth=0)
ax_d.set_xlim(110, 1353)
ax_d.set_ylim(0, 250)
ax_d.axis("off")
fig.text(19.3 / W, 1 - 252.7 / H, "Density", rotation=90, fontsize=6.8, ha="center", va="center")

# B cloud, blocks fade out between the ranges read for them
ax_b = add_panel(36.7, 291.7, 451, 497.7)
shade_rows = np.linspace(7, 0, 211)
for i in range(len(band_start)):
    anchors = [outer_low[i], dotted_low[i], solid_low[i], solid_high[i], dotted_high[i], outer_high[i], outer_high[i] + 0.3]
    shade = np.zeros((len(shade_rows), 1, 4))
    shade[:, :, :3] = to_rgb(CLOUD)
    shade[:, 0, 3] = np.interp(shade_rows, anchors, [0, 0.6, 1, 1, 0.6, 0.16, 0], left=0, right=0)
    ax_b.imshow(shade, extent=(band_start[i], band_end[i], 0, 7), aspect="auto", interpolation="bilinear")
all_x = sparse_x + fringe_x + under_x + row_48_x + row_60_x + row_72_x + row_30_x
all_y = sparse_y + fringe_y + under_y + [0.48] * len(row_48_x) + [0.60] * len(row_60_x) + [0.72] * len(row_72_x) + [0.30] * len(row_30_x)
sns.scatterplot(x=all_x, y=all_y, color=CLOUD, s=2.4, linewidth=0, ax=ax_b)
sns.scatterplot(x=red_x, y=red_y, color=RED, s=2.4, linewidth=0, ax=ax_b)
ax_b.hlines([-0.035] * len(chrom_start), chrom_start, chrom_end, color="#BDBDBD", linewidth=0.9,
            transform=ax_b.get_xaxis_transform(), clip_on=False)
ax_b.set_xlim(110, 1353)
ax_b.set_ylim(0, 7)
sns.despine(ax=ax_b, bottom=True)
ax_b.spines["left"].set_color("#AAAAAA")
ax_b.spines["left"].set_linewidth(1.3)
ax_b.set_yticks([1, 2, 3, 4, 5, 6, 7])
ax_b.set_xticks(chrom_ticks, chrom_names, rotation=50, ha="right", rotation_mode="anchor")
ax_b.tick_params(axis="y", length=0, labelsize=6.3, pad=3)
ax_b.tick_params(axis="x", length=0, labelsize=7, pad=9)
ax_b.set_ylabel("Distance between circRNAs (log10)", fontsize=7)
ax_b.yaxis.set_label_coords(-0.038, 0.625)

# D
ax_m = add_panel(501, 264.3, 783, 514.3)
sns.barplot(x=expr_groups, y=non_host, color="#0072B2", saturation=1, width=0.986, edgecolor="none", ax=ax_m)
sns.barplot(x=expr_groups, y=host, bottom=non_host, color="#D55E00", saturation=1, width=0.986, edgecolor="none", ax=ax_m)
ax_m.set_xlim(-0.5, 2.5)
ax_m.set_ylim(0, 9699)
ax_m.hlines(non_host, [-0.493, 0.507, 1.507], [0.493, 1.493, 2.493], color="#E8E8E8", linewidth=1)
for i, (n, h) in enumerate(zip(non_host, host)):
    ax_m.text(i, n / 2, str(n), color="#D2D2D2", fontsize=7.3, ha="center", va="center")
    ax_m.text(i, n + h / 2, str(h), color="#D2D2D2", fontsize=7.3, ha="center", va="center")
sns.despine(ax=ax_m, left=True, bottom=True)
ax_m.set_yticks([])
ax_m.tick_params(axis="x", length=0, labelsize=7.1, pad=3)
ax_m.set_xlabel("")
ax_m.set_ylabel("Gene Count", fontsize=7.1)
ax_m.yaxis.set_label_coords(-0.011, 0.525)
ax_m.legend(handles=[Patch(color="#D55E00", label="CircRNA Host Gene"), Patch(color="#0072B2", label="non\u2212Host Gene")],
            ncol=2, frameon=False, fontsize=6.1, handlelength=1.0, handleheight=1.0, handletextpad=0.6, columnspacing=0.8,
            loc="center", bbox_to_anchor=(0.52, -0.099))

# E
ax_e = add_panel(47.3, 591.7, 325.7, 873.7)
ax_e.fill_betweenx(violin_levels, 1 - np.array(median_width) / 261, 1 + np.array(median_width) / 261, color="#00BA38", linewidth=0)
ax_e.fill_betweenx(violin_levels, 2 - np.array(high_width) / 261, 2 + np.array(high_width) / 261, color="#619CFF", linewidth=0)
low_values = np.repeat(low_levels, low_counts)
sns.swarmplot(x=["Low"] * len(low_values), y=low_values, order=host_groups, color="#F8766D", size=2.3, warn_thresh=1, ax=ax_e)
box_groups = ["Low"] * 5 + ["Median"] * 5 + ["High"] * 5
sns.boxplot(x=box_groups, y=box_low + box_median + box_high, order=host_groups, whis=np.inf, showcaps=False, width=0.1,
            color="white", linecolor="#C4C4C4", linewidth=1, saturation=1, ax=ax_e)
for left, right, y in zip(bracket_left, bracket_right, bracket_y):
    ax_e.plot([left, left, right, right], [y - 0.009, y, y, y - 0.009], color="#707070", linewidth=0.8)
    ax_e.text((left + right) / 2, y + 0.003, "****", fontsize=6, ha="center", va="bottom", color="#333333")
ax_e.set_xlim(-0.598, 2.6)
ax_e.set_ylim(-0.0149, 0.405)
sns.despine(ax=ax_e)
for side in ["left", "bottom"]:
    ax_e.spines[side].set_color("#555555")
    ax_e.spines[side].set_linewidth(1.1)
ax_e.set_yticks([0, 0.1, 0.2, 0.3, 0.4])
ax_e.tick_params(length=2.5, width=0.8, color="#555555", labelsize=7.2, pad=2, left=True, bottom=True)
ax_e.set_xlabel("Host Gene Expression", fontsize=7.4, fontweight="bold", labelpad=0.5)
ax_e.set_ylabel("CircRNA Expression", fontsize=7.3, fontweight="bold")
ax_e.yaxis.set_label_coords(-0.073, 0.5)

# F
rainbow = LinearSegmentedColormap.from_list("host_expr", [(0.0, "#B030FF"), (0.2, "#3070FF"), (0.36, "#30DDE0"), (0.5, "#30F070"), (0.72, "#B0FF30"), (0.85, "#FFB000"), (1.0, "#FF2000")])
soft_green = LinearSegmentedColormap.from_list("soft_green", ["#FFFFFF", "#62E68A"])
f_x = green_x + lime_x + mid_x + cyan_x + blue_x + purple_x + red_pt_x
f_y = green_y + lime_y + mid_y + cyan_y + blue_y + purple_y + red_pt_y
f_expr = [5.0] * len(green_x) + [6.6] * len(lime_x) + [5.4] * len(mid_x) + [3.8] * len(cyan_x) + [2.0] * len(blue_x) + [0.3] * len(purple_x) + [9.6] * len(red_pt_x)

ax_f = add_panel(452.3, 603.3, 717.7, 874)
sns.kdeplot(x=lime_x + mid_x + cyan_x, y=lime_y + mid_y + cyan_y, fill=True, levels=14, thresh=0.06, bw_adjust=0.75,
            cmap=soft_green, clip=((0.09, 2), (-0.7, 1.1)), ax=ax_f)
sns.scatterplot(x=f_x, y=f_y, hue=f_expr, palette=rainbow, hue_norm=(0, 10), s=5, linewidth=0, alpha=0.75, legend=False, ax=ax_f)
ax_f.axvline(0.5, color="#CCCCCC", linestyle=(0, (5, 4)), linewidth=1)
ax_f.axhline(0.5, color="#CCCCCC", linestyle=(0, (5, 4)), linewidth=1)
ax_f.set_xlim(0, 2)
ax_f.set_ylim(-0.669, 1.077)
ax_f.set_xticks([0, 0.5, 1, 1.5, 2], ["0.0", "0.5", "1.0", "1.5", "2.0"])
ax_f.set_yticks([-0.5, 0, 0.5, 1], ["\u22120.5", "0.0", "0.5", "1.0"])
ax_f.tick_params(length=2.5, width=0.8, color="#777777", pad=2, left=True, bottom=True)
bold_ticks(ax_f, 7.3)
for side in ["left", "bottom"]:
    ax_f.spines[side].set_color("#888888")
    ax_f.spines[side].set_linewidth(1.1)
ax_f.spines["top"].set_color("#AAAAAA")
ax_f.spines["top"].set_linewidth(0.5)
ax_f.spines["right"].set_visible(False)
ax_f.set_xlabel("circRNA expression", fontsize=7.7, fontweight="bold", labelpad=1)
ax_f.set_ylabel("circRNA and host-gene correlation", fontsize=7.3, fontweight="bold")
ax_f.yaxis.set_label_coords(-0.077, 0.543)

ax_top = add_panel(452.3, 549, 717.7, 603.3)
sns.lineplot(x=top_x, y=top_h, color="#777777", linewidth=0.5, ax=ax_top)
ax_top.fill_between(top_x, 0, top_h, color="#E64B35", linewidth=0)
ax_top.set_xlim(0, 2)
ax_top.set_ylim(0, 54.3)
ax_top.axis("off")

ax_side = add_panel(717.7, 603.3, 771, 874)
sns.lineplot(x=side_w, y=side_y, orient="y", sort=False, color="#777777", linewidth=0.5, ax=ax_side)
ax_side.fill_betweenx(side_y, 0, side_w, color="#4DBBD5", linewidth=0)
ax_side.set_xlim(0, 53.3)
ax_side.set_ylim(-0.669, 1.077)
ax_side.axis("off")

cax = add_panel(636.7, 818.3, 646, 866.7)
bar = fig.colorbar(ScalarMappable(norm=Normalize(-0.7, 10.6), cmap=rainbow), cax=cax, ticks=[0, 5, 10])
bar.outline.set_visible(False)
cax.tick_params(length=0, labelsize=5.6, pad=2)
for lab in cax.get_yticklabels():
    lab.set_fontweight("bold")
fig.text(646.7 / W, 1 - 807.7 / H, "Host  Gene Expression", fontsize=5.4, fontweight="bold", ha="center", va="center")

# panel letters
for letter, x, y in [("A", 9, 11), ("B", 8, 222), ("C", 445, 10), ("D", 472, 243), ("E", 8, 592), ("F", 401, 585)]:
    fig.text(x / W, 1 - y / H, letter, fontsize=13, fontweight="bold", ha="center", va="center")

fig.savefig("out.png", dpi=100)
